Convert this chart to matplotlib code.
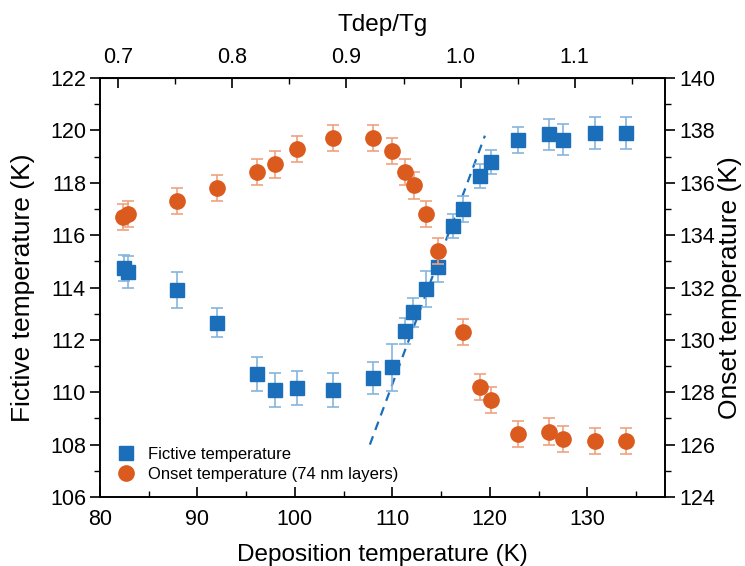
import matplotlib.pyplot as plt
from matplotlib.ticker import MultipleLocator

plt.rcParams['font.family'] = ['Liberation Sans', 'DejaVu Sans']

# fictive temperature (left axis)
fict_tdep = [82.5, 82.9, 87.9, 92.0, 96.1, 98.0, 100.2, 103.9, 108.0, 110.0, 111.3, 112.1,
             113.5, 114.7, 116.2, 117.2, 119.0, 120.1, 122.9, 126.1, 127.5, 130.8, 134.0]
fict_temp = [114.75, 114.6, 113.9, 112.65, 110.7, 110.1, 110.15, 110.1, 110.55, 110.95, 112.35, 113.05,
             113.95, 114.8, 116.35, 117.0, 118.25, 118.8, 119.65, 119.85, 119.65, 119.9, 119.9]
fict_err = [0.5, 0.6, 0.7, 0.55, 0.65, 0.65, 0.65, 0.65, 0.6, 0.9, 0.5, 0.55,
            0.7, 0.6, 0.45, 0.5, 0.45, 0.45, 0.5, 0.6, 0.6, 0.6, 0.6]

# onset temperature (right axis)
onset_tdep = [82.4, 82.9, 87.9, 92.0, 96.1, 98.0, 100.2, 103.9, 108.0, 110.0, 111.3, 112.2,
              113.5, 114.7, 117.3, 119.0, 120.1, 122.9, 126.1, 127.5, 130.8, 134.0]
onset_temp = [134.7, 134.8, 135.3, 135.8, 136.4, 136.7, 137.3, 137.7, 137.7, 137.2, 136.4, 135.9,
              134.8, 133.4, 130.3, 128.2, 127.7, 126.4, 126.5, 126.2, 126.15, 126.15]
onset_err = [0.5] * len(onset_tdep)

# linear guide through the transition
fit_x = [107.7, 119.5]
fit_y = [108.0, 119.8]

Tg = 117.0

blue = '#1b6fba'
orange = '#db5a1e'

fig, ax = plt.subplots(figsize=(7.45, 5.66), dpi=100)
fig.subplots_adjust(left=0.134, right=0.893, bottom=0.122, top=0.862)
ax2 = ax.twinx()

ax.plot(fit_x, fit_y, ls=(0, (4, 3)), color=blue, lw=1.6, zorder=1)
ax.errorbar(fict_tdep, fict_temp, yerr=fict_err, fmt='none', ecolor='#86b4dd',
            elinewidth=1.2, capsize=4, capthick=1.2, zorder=2)
h1, = ax.plot(fict_tdep, fict_temp, 's', color=blue, ms=10, ls='none', zorder=3,
              label='Fictive temperature')

ax2.errorbar(onset_tdep, onset_temp, yerr=onset_err, fmt='none', ecolor='#eea27f',
             elinewidth=1.2, capsize=4, capthick=1.2, zorder=2)
h2, = ax2.plot(onset_tdep, onset_temp, 'o', color=orange, ms=11, ls='none', zorder=3,
               label='Onset temperature (74 nm layers)')

ax.set_xlim(80, 138)
ax.set_ylim(106, 122)
ax2.set_ylim(124, 140)

ax.xaxis.set_major_locator(MultipleLocator(10))
ax.xaxis.set_minor_locator(MultipleLocator(5))
ax.yaxis.set_major_locator(MultipleLocator(2))
ax.yaxis.set_minor_locator(MultipleLocator(1))
ax2.yaxis.set_major_locator(MultipleLocator(2))
ax2.yaxis.set_minor_locator(MultipleLocator(1))

fs_tick = 15.5
ax.tick_params(axis='x', which='both', direction='in', labelsize=fs_tick, pad=9)
ax.tick_params(axis='x', which='major', length=7, width=1.2)
ax.tick_params(axis='x', which='minor', length=4, width=1.0)
ax.tick_params(axis='y', which='major', direction='out', length=7, width=1.2,
               labelsize=fs_tick, pad=3)
ax.tick_params(axis='y', which='minor', direction='out', length=4, width=1.0)
ax2.tick_params(axis='y', which='major', direction='out', length=7, width=1.2,
                labelsize=fs_tick, pad=3)
ax2.tick_params(axis='y', which='minor', direction='out', length=4, width=1.0)

top = ax.secondary_xaxis('top', functions=(lambda t: t / Tg, lambda r: r * Tg))
top.xaxis.set_major_locator(MultipleLocator(0.1))
top.xaxis.set_minor_locator(MultipleLocator(0.05))
top.xaxis.set_major_formatter(plt.FuncFormatter(lambda v, p: f'{v:.1f}'))
top.tick_params(axis='x', which='both', direction='in', labelsize=fs_tick, pad=7)
top.tick_params(axis='x', which='major', length=7, width=1.2)
top.tick_params(axis='x', which='minor', length=4, width=1.0)
top.set_xlabel('Tdep/Tg', fontsize=17.5, labelpad=12)

for a in (ax, ax2):
    for s in a.spines.values():
        s.set_linewidth(1.2)

ax.set_xlabel('Deposition temperature (K)', fontsize=17.5, labelpad=10)
ax.set_ylabel('Fictive temperature (K)', fontsize=19)
ax.yaxis.set_label_coords(-0.115, 0.5)
ax2.set_ylabel('Onset temperature (K)', fontsize=19)
ax2.yaxis.set_label_coords(1.094, 0.5)

ax2.legend([h1, h2], [h1.get_label(), h2.get_label()], loc='lower left',
           bbox_to_anchor=(0.005, 0.0), frameon=False, fontsize=12,
           handletextpad=0.8, handlelength=1.0, borderaxespad=0.5, labelspacing=0.3)

fig.savefig('out.png', dpi=100)
